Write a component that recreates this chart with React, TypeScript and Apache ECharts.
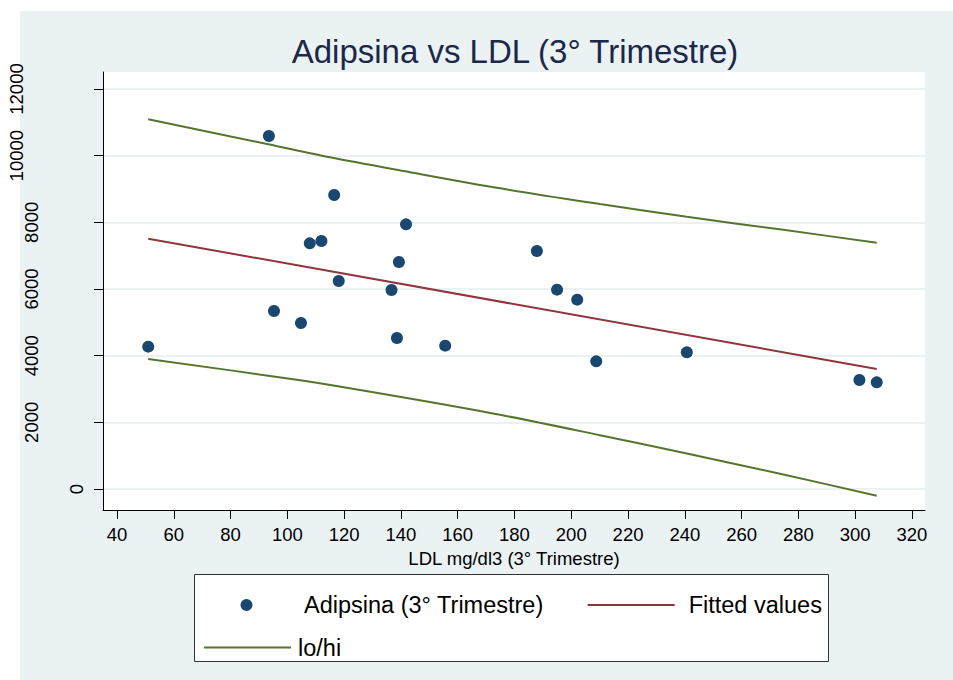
import React, { useEffect, useRef } from "react";
import * as echarts from "echarts";

// Scatter data: LDL (x) vs Adipsina (y)
const ldlValues = [51.0, 93.5, 116.5, 141.8, 107.9, 112.0, 139.3, 118.1, 136.7, 95.3, 104.8, 138.6, 155.6, 187.9, 195.0, 202.1, 208.8, 240.7, 301.5, 307.6];
const adipsinaValues = [4270, 10590, 8820, 7940, 7370, 7440, 6810, 6240, 5970, 5340, 4980, 4530, 4300, 7140, 5980, 5680, 3830, 4100, 3270, 3200];

// Fitted values line
const fitX = [51.0, 307.6];
const fitY = [7510, 3600];

// lo/hi bands
const hiX = [51.0, 93.3, 115.0, 140.9, 174.9, 210.1, 240.7, 274.7, 307.6];
const hiY = [11090, 10340, 9950, 9540, 9020, 8550, 8165, 7775, 7390];
const loX = [51.0, 103.3, 138.5, 174.9, 210.1, 240.7, 274.7, 307.6];
const loY = [3900, 3275, 2780, 2225, 1615, 1065, 435, -200];

// Axis ticks
const xTicks = [40, 60, 80, 100, 120, 140, 160, 180, 200, 220, 240, 260, 280, 300, 320];
const yTicks = [0, 2000, 4000, 6000, 8000, 10000, 12000];

const seriesNames = ["Adipsina (3° Trimestre)", "Fitted values", "lo/hi"];

const zip = (xs: number[], ys: number[]) => xs.map((x, i) => [x, ys[i]]);

const FONT = "'Liberation Sans', Arial, Helvetica, sans-serif";

// legend key: dot centred in an 87x12 box (tiny zero-area anchors fix the box)
const DOT_ICON =
  "path://M0,0 L0.01,0 L0,0.01 Z M87,12 L86.99,12 L87,11.99 Z M37.5,6 A6,6 0 1,1 49.5,6 A6,6 0 1,1 37.5,6 Z";

export default function App() {
  const ref = useRef<HTMLDivElement>(null);

  useEffect(() => {
    if (!ref.current) return;
    const chart = echarts.init(ref.current, undefined, { renderer: "svg" });
    const option: any = {
      animation: false,
      backgroundColor: "#ffffff",
      textStyle: { fontFamily: FONT },
      title: {
        text: "Adipsina vs LDL (3° Trimestre)",
        left: 515,
        top: 35,
        textAlign: "center",
        padding: 0,
        textStyle: { fontSize: 33, fontWeight: "normal", color: "#1c2848", fontFamily: FONT },
      },
      grid: {
        left: 103,
        top: 72,
        right: 28,
        bottom: 170,
        show: true,
        backgroundColor: "#ffffff",
        borderWidth: 0,
        containLabel: false,
      },
      xAxis: {
        type: "value",
        min: 35.07,
        max: 324.6,
        name: "LDL mg/dl3 (3° Trimestre)",
        nameLocation: "middle",
        nameGap: 34,
        nameTextStyle: { fontSize: 18.5, color: "#000", fontFamily: FONT },
        axisLine: { show: true, onZero: false, lineStyle: { color: "#000", width: 1 } },
        axisTick: { show: true, length: 9, customValues: xTicks, lineStyle: { color: "#000", width: 1 } },
        axisLabel: { customValues: xTicks, fontSize: 18.5, color: "#000", margin: 15, fontFamily: FONT },
        splitLine: { show: false },
      },
      yAxis: {
        type: "value",
        min: -630,
        max: 12510,
        axisLine: { show: true, onZero: false, lineStyle: { color: "#000", width: 1 } },
        axisTick: { show: true, length: 9, customValues: yTicks, lineStyle: { color: "#000", width: 1 } },
        axisLabel: {
          customValues: yTicks,
          rotate: 90,
          margin: 0,
          color: "#000",
          fontSize: 18.5,
          fontFamily: FONT,
          formatter: (v: number) => {
            const s = String(v);
            const k = s.length === 1 ? "a" : s.length === 4 ? "b" : "c";
            return `{${k}|${s}}`;
          },
          rich: {
            a: { lineHeight: 53, fontSize: 18.5, color: "#000", fontFamily: FONT },
            b: { lineHeight: 142.6, fontSize: 18.5, color: "#000", fontFamily: FONT },
            c: { lineHeight: 172.6, fontSize: 18.5, color: "#000", fontFamily: FONT },
          },
        },
        splitLine: { show: true, lineStyle: { color: "#eaf2f3", width: 2 } },
      },
      legend: [
        {
          data: [
            { name: seriesNames[0], icon: DOT_ICON, itemStyle: { opacity: 1, color: "#1a476f" } },
            { name: seriesNames[1], itemStyle: { opacity: 0 } },
          ],
          left: 203,
          top: 593,
          orient: "horizontal",
          padding: 0,
          itemGap: 43,
          itemWidth: 87,
          itemHeight: 12,
          selectedMode: false,
          textStyle: { fontSize: 23.5, color: "#000", fontFamily: FONT, padding: [0, 0, 0, 9] },
        },
        {
          data: [{ name: seriesNames[2], itemStyle: { opacity: 0 } }],
          left: 203,
          top: 635.5,
          orient: "horizontal",
          padding: 0,
          itemWidth: 87,
          itemHeight: 12,
          selectedMode: false,
          textStyle: { fontSize: 23.5, color: "#000", fontFamily: FONT, padding: [0, 0, 0, 2] },
        },
      ],
      graphic: [
        {
          type: "rect",
          z: -10,
          silent: true,
          shape: { x: 20, y: 11, width: 933, height: 669 },
          style: { fill: "#eaf2f3" },
        },
        {
          type: "rect",
          z: 3,
          silent: true,
          shape: { x: 194.5, y: 574.5, width: 634, height: 87 },
          style: { fill: "#ffffff", stroke: "#333333", lineWidth: 1 },
        },
      ],
      series: [
        {
          name: seriesNames[0],
          type: "scatter",
          data: zip(ldlValues, adipsinaValues),
          symbol: "circle",
          symbolSize: 12,
          itemStyle: { color: "#1a476f", opacity: 1 },
          z: 5,
        },
        {
          name: seriesNames[1],
          type: "line",
          data: zip(fitX, fitY),
          symbol: "none",
          showSymbol: false,
          lineStyle: { color: "#90353b", width: 2 },
          itemStyle: { color: "#90353b" },
          z: 3,
        },
        {
          name: seriesNames[2],
          type: "line",
          data: zip(hiX, hiY),
          symbol: "none",
          showSymbol: false,
          smooth: 0.3,
          lineStyle: { color: "#55752f", width: 2 },
          itemStyle: { color: "#55752f" },
          z: 3,
        },
        {
          name: seriesNames[2],
          type: "line",
          data: zip(loX, loY),
          symbol: "none",
          showSymbol: false,
          smooth: 0.3,
          lineStyle: { color: "#55752f", width: 2 },
          itemStyle: { color: "#55752f" },
          z: 3,
        },
      ],
    };
    chart.setOption(option);
    return () => chart.dispose();
  }, []);

  return (
    <div
      ref={ref}
      style={{ position: "fixed", left: 0, top: 0, width: 953, height: 680 }}
    />
  );
}
